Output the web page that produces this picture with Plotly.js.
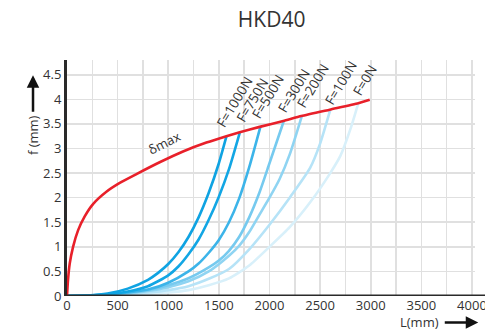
<!DOCTYPE html>
<html>
<head>
<meta charset="utf-8">
<script src="https://cdn.plot.ly/plotly-3.0.1.min.js"></script>
<style>html,body{margin:0;padding:0;background:#fff}#chart{width:485px;height:331px}</style>
</head>
<body>
<div id="chart"></div>
<script>
// δmax curve
const maxL = [0, 10, 27, 60, 110, 175, 257, 389, 521, 686, 915, 1146, 1377, 1574, 1706, 1903, 2136, 2315, 2595, 2877, 2990];
const maxF = [0, 0.33, 0.66, 1.0, 1.34, 1.62, 1.87, 2.12, 2.3, 2.48, 2.72, 2.94, 3.12, 3.25, 3.33, 3.44, 3.56, 3.66, 3.79, 3.92, 3.99];

const seriesNames = ["F=1000N", "F=750N", "F=500N", "F=300N", "F=200N", "F=100N", "F=0N"];

const L1000 = [0, 200, 400, 600, 800, 900, 1000, 1100, 1200, 1300, 1400, 1500, 1574];
const F1000 = [0, 0.01, 0.05, 0.15, 0.33, 0.47, 0.65, 0.89, 1.2, 1.6, 2.1, 2.7, 3.24];

const L750 = [0, 200, 400, 600, 800, 1000, 1100, 1200, 1300, 1400, 1500, 1600, 1706];
const F750 = [0, 0.01, 0.03, 0.09, 0.2, 0.42, 0.6, 0.85, 1.15, 1.55, 2.02, 2.58, 3.32];

const L500 = [0, 200, 400, 600, 800, 1000, 1200, 1300, 1400, 1500, 1600, 1700, 1800, 1910];
const F500 = [0, 0.01, 0.03, 0.07, 0.13, 0.27, 0.5, 0.66, 0.88, 1.14, 1.5, 1.98, 2.62, 3.44];

const L300 = [0, 200, 400, 600, 800, 1000, 1200, 1400, 1500, 1600, 1700, 1800, 1900, 2000, 2143];
const F300 = [0, 0.01, 0.03, 0.06, 0.12, 0.22, 0.36, 0.58, 0.72, 0.92, 1.2, 1.6, 2.1, 2.7, 3.57];

const L200 = [0, 200, 400, 600, 800, 1000, 1200, 1400, 1600, 1700, 1800, 1900, 2000, 2100, 2200, 2321];
const F200 = [0, 0.01, 0.02, 0.05, 0.1, 0.18, 0.3, 0.5, 0.82, 1.02, 1.3, 1.65, 2.0, 2.38, 2.88, 3.67];

const L100 = [0, 200, 400, 600, 800, 1000, 1200, 1400, 1600, 1800, 2000, 2200, 2400, 2500, 2601];
const F100 = [0, 0.005, 0.015, 0.035, 0.07, 0.12, 0.2, 0.35, 0.55, 0.95, 1.45, 2.0, 2.6, 3.1, 3.79];

const L0 = [0, 200, 400, 600, 800, 1000, 1200, 1400, 1600, 1800, 2000, 2200, 2400, 2600, 2700, 2800, 2877];
const F0 = [0, 0.003, 0.01, 0.02, 0.04, 0.07, 0.12, 0.22, 0.36, 0.62, 1.0, 1.4, 1.9, 2.5, 2.85, 3.4, 3.92];

const xTicks = [0, 500, 1000, 1500, 2000, 2500, 3000, 3500, 4000];
const yTicks = [0, 0.5, 1, 1.5, 2, 2.5, 3, 3.5, 4, 4.5];

const blueL = [L1000, L750, L500, L300, L200, L100, L0];
const blueF = [F1000, F750, F500, F300, F200, F100, F0];
const blueColors = ["#0fa3e2", "#12a6e4", "#3cb4e9", "#76caef", "#8fd4f2", "#b6e3f7", "#d8f0fa"];

// label centres (data coords)
const labelL = [1656, 1829, 1982, 2239, 2427, 2704, 2940];
const labelF = [3.94, 3.99, 4.05, 4.17, 4.27, 4.33, 4.4];

const traces = [];
for (let i = blueL.length - 1; i >= 0; i--) {
  traces.push({
    x: blueL[i], y: blueF[i], type: 'scatter', mode: 'lines',
    line: {color: blueColors[i], width: 2.6, shape: 'spline', smoothing: 0.6},
    name: seriesNames[i], hoverinfo: 'skip'
  });
}
traces.push({
  x: maxL, y: maxF, type: 'scatter', mode: 'lines',
  line: {color: '#e8202a', width: 2.6, shape: 'spline', smoothing: 0.5},
  name: 'δmax', hoverinfo: 'skip'
});

const font = "'Open Sans', 'DejaVu Sans', sans-serif";
const annotations = seriesNames.map((n, i) => ({
  x: labelL[i], y: labelF[i], xref: 'x', yref: 'y', text: n, showarrow: false,
  textangle: -59, font: {family: font, size: 13.5, color: '#333'},
  xanchor: 'center', yanchor: 'middle'
}));
annotations.push({x: 955, y: 3.12, xref: 'x', yref: 'y', text: 'δmax', showarrow: false,
  textangle: -27, font: {family: font, size: 13, color: '#333'}, xanchor: 'center', yanchor: 'middle'});
annotations.push({x: -0.0833, y: 0.682, xref: 'paper', yref: 'paper', text: 'f (mm)', showarrow: false,
  textangle: -90, font: {family: font, size: 13, color: '#333'}, xanchor: 'center', yanchor: 'middle'});
annotations.push({x: -0.0833, y: 0.935, xref: 'paper', yref: 'paper', text: '', showarrow: true,
  ax: 0, ay: 38, arrowhead: 2, arrowsize: 1, arrowwidth: 2.5, arrowcolor: '#111'});
annotations.push({x: 0.865, y: -0.112, xref: 'paper', yref: 'paper', text: 'L(mm)', showarrow: false,
  font: {family: font, size: 13, color: '#333'}, xanchor: 'center', yanchor: 'middle'});
annotations.push({x: 1.008, y: -0.112, xref: 'paper', yref: 'paper', text: '', showarrow: true,
  ax: -35, ay: 0, arrowhead: 2, arrowsize: 1, arrowwidth: 2.5, arrowcolor: '#111'});

const layout = {
  width: 485, height: 331,
  margin: {l: 67, r: 10, t: 60, b: 35},
  paper_bgcolor: '#fff', plot_bgcolor: '#fff',
  showlegend: false,
  title: {text: 'HKD40', x: 0.56, xanchor: 'center', y: 0.94, yanchor: 'middle',
    font: {family: font, size: 21, color: '#333'}},
  xaxis: {
    range: [0, 4030], tickvals: xTicks, ticktext: xTicks.map(String),
    ticklabeloverflow: 'allow',
    showgrid: true, gridcolor: '#e0e0e0', gridwidth: 1.6,
    minor: {dtick: 250, showgrid: true, gridcolor: '#e0e0e0', gridwidth: 1.6},
    zeroline: false, showline: false, ticks: '',
    tickfont: {family: font, size: 13, color: '#333'}, fixedrange: true
  },
  yaxis: {
    range: [0, 4.8], tickvals: yTicks, ticktext: yTicks.map(String),
    showgrid: true, gridcolor: '#e0e0e0', gridwidth: 1.6,
    zeroline: false, showline: true, linecolor: '#2a2a2a', linewidth: 3, ticks: '',
    tickfont: {family: font, size: 13, color: '#333'}, fixedrange: true
  },
  shapes: [{type: 'line', xref: 'paper', yref: 'y', x0: -0.004, x1: 1.04, y0: 0, y1: 0,
    line: {color: '#2a2a2a', width: 3}}],
  annotations: annotations
};

Plotly.newPlot('chart', traces, layout, {staticPlot: true, displayModeBar: false});
</script>
</body>
</html>
